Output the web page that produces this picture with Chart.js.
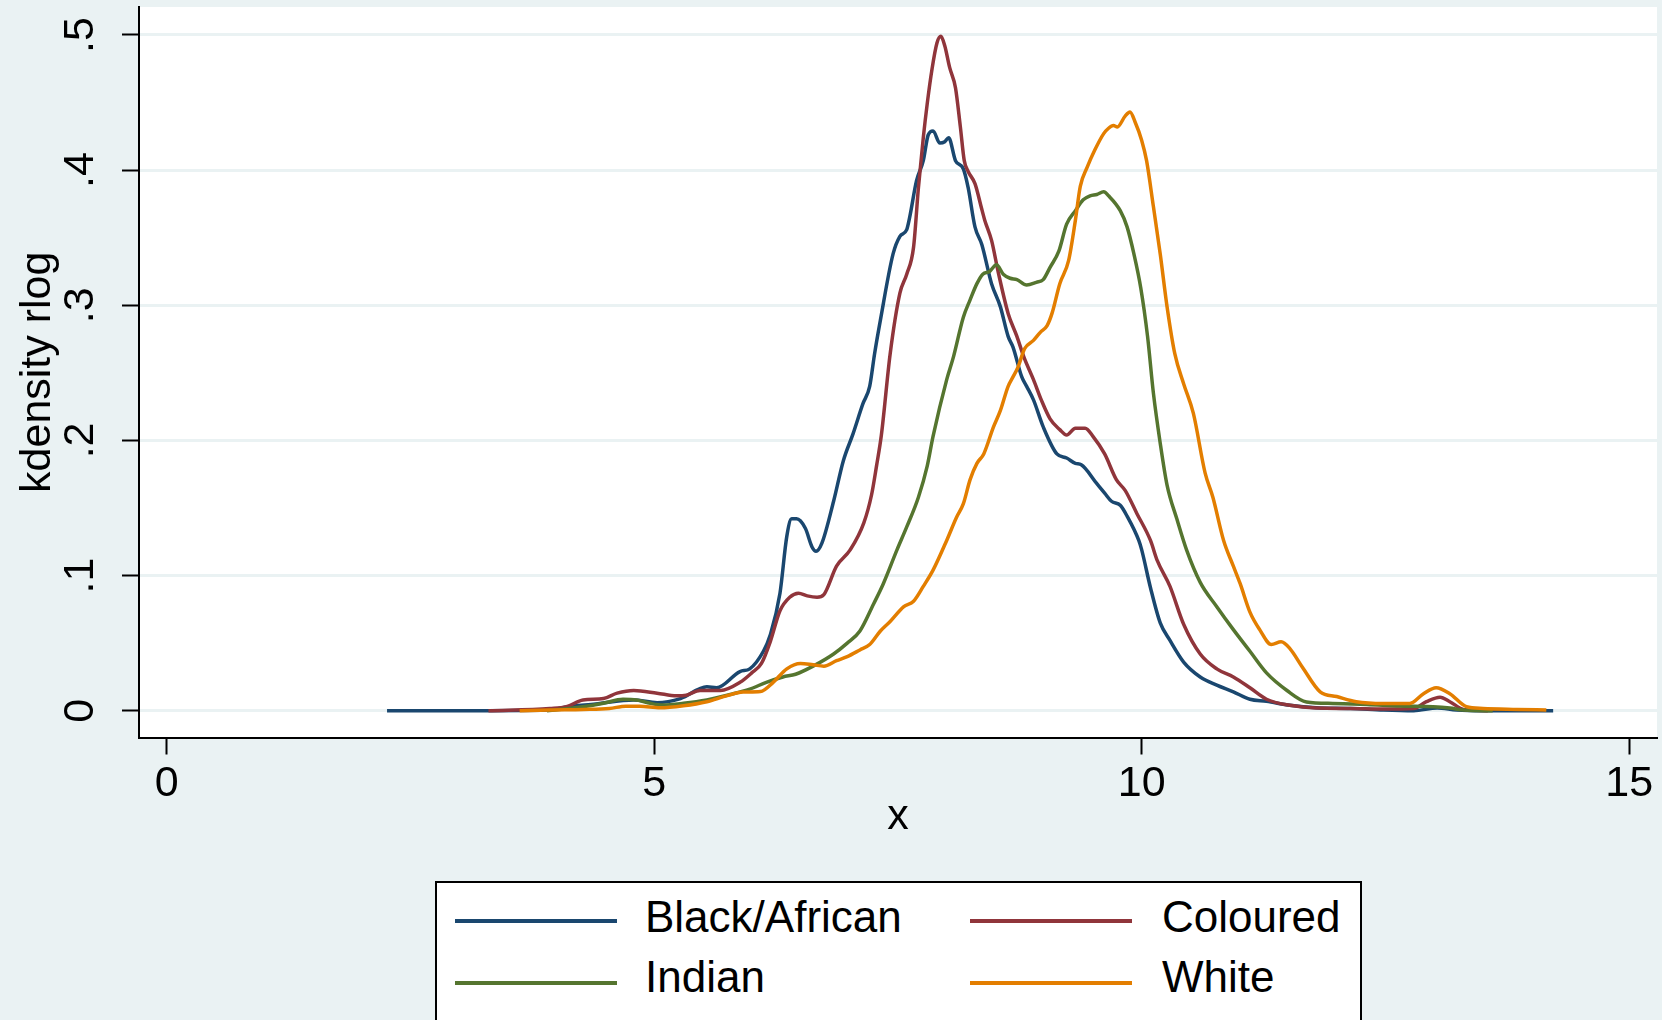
<!DOCTYPE html>
<html>
<head>
<meta charset="utf-8">
<script src="https://cdn.jsdelivr.net/npm/chart.js@4.4.1/dist/chart.umd.min.js"></script>
<style>
  body { margin: 0; background: #eaf2f3; width: 1662px; height: 1020px; overflow: hidden; position: relative; font-family: "Liberation Sans", Arial, sans-serif; }
  #wrap { position: absolute; left: 0; top: 0; width: 1662px; height: 860px; }
  #legend { position: absolute; left: 435px; top: 881px; width: 927px; height: 170px; box-sizing: border-box; border: 2px solid #000; background: #fff; }
  .key-line { position: absolute; width: 162px; height: 4px; }
  .key-text { position: absolute; font-size: 44px; line-height: 44px; color: #000; white-space: nowrap; }
</style>
</head>
<body>
<div id="wrap"><canvas id="kd"></canvas></div>
<div id="legend"></div>

<script>
// Series
const seriesNames = ['Black/African', 'Coloured', 'Indian', 'White'];
const seriesColors = ['#1a476f', '#90353b', '#55752f', '#e37e00'];

const blackX = [2.26, 3.00, 3.93, 4.07, 4.40, 4.79, 5.03, 5.27, 5.54, 5.64, 5.88, 5.98, 6.12, 6.19, 6.29, 6.36, 6.41, 6.46, 6.55, 6.62,
  6.66, 6.72, 6.84, 6.94, 7.04, 7.14, 7.21, 7.26, 7.32, 7.45, 7.52, 7.59, 7.62, 7.69, 7.76, 7.81, 7.86, 7.93, 7.98, 8.02,
  8.09, 8.17, 8.22, 8.29, 8.36, 8.46, 8.55, 8.63, 8.68, 8.77, 8.82, 8.89, 8.99, 9.13, 9.23, 9.32, 9.38, 9.54, 9.62, 9.69,
  9.78, 9.85, 9.97, 10.00, 10.09, 10.19, 10.29, 10.43, 10.60, 10.77, 10.94, 11.11, 11.28, 11.52, 11.79, 12.14, 12.48, 12.79, 13.03, 13.23,
  13.50, 14.22];
const blackY = [0, 0, 0.0005, 0.0025, 0.005, 0.008, 0.006, 0.009, 0.0177, 0.017, 0.029, 0.031, 0.044, 0.056, 0.087, 0.129, 0.142, 0.142, 0.135, 0.121,
  0.118, 0.124, 0.155, 0.185, 0.205, 0.227, 0.240, 0.264, 0.289, 0.338, 0.351, 0.356, 0.365, 0.392, 0.407, 0.426, 0.429, 0.420, 0.421, 0.424,
  0.407, 0.401, 0.387, 0.358, 0.345, 0.316, 0.299, 0.277, 0.269, 0.247, 0.240, 0.230, 0.210, 0.190, 0.187, 0.183, 0.182, 0.168, 0.161, 0.155,
  0.152, 0.144, 0.126, 0.119, 0.091, 0.065, 0.052, 0.036, 0.025, 0.019, 0.014, 0.0085, 0.007, 0.004, 0.0022, 0.0017, 0.0005, 0, 0.002, 0.0005,
  0, 0];

const colouredX = [3.30, 3.93, 4.10, 4.27, 4.48, 4.62, 4.79, 5.03, 5.23, 5.33, 5.47, 5.68, 5.88, 6.00, 6.10, 6.19, 6.29, 6.39, 6.48, 6.57,
  6.67, 6.74, 6.87, 7.01, 7.15, 7.23, 7.28, 7.33, 7.42, 7.52, 7.59, 7.66, 7.71, 7.76, 7.80, 7.85, 7.90, 7.94, 7.98, 8.03,
  8.09, 8.14, 8.18, 8.22, 8.29, 8.36, 8.39, 8.46, 8.53, 8.63, 8.72, 8.79, 8.89, 8.97, 9.06, 9.16, 9.23, 9.32, 9.42, 9.50,
  9.62, 9.74, 9.83, 9.95, 10.09, 10.16, 10.29, 10.43, 10.60, 10.77, 10.94, 11.11, 11.28, 11.52, 11.79, 12.14, 12.48, 12.79, 12.92, 13.06,
  13.16, 13.30, 13.55];
const colouredY = [0, 0.0017, 0.003, 0.008, 0.009, 0.013, 0.015, 0.013, 0.011, 0.0115, 0.015, 0.015, 0.021, 0.028, 0.035, 0.051, 0.074, 0.084, 0.087, 0.085,
  0.084, 0.086, 0.107, 0.119, 0.139, 0.160, 0.181, 0.204, 0.264, 0.309, 0.323, 0.343, 0.387, 0.424, 0.449, 0.475, 0.494, 0.499, 0.492, 0.476,
  0.461, 0.432, 0.407, 0.399, 0.390, 0.371, 0.363, 0.348, 0.324, 0.294, 0.277, 0.262, 0.245, 0.230, 0.216, 0.208, 0.204, 0.209, 0.209, 0.203,
  0.190, 0.171, 0.163, 0.146, 0.126, 0.111, 0.092, 0.064, 0.042, 0.031, 0.025, 0.017, 0.0085, 0.004, 0.002, 0.0017, 0.0012, 0.0017, 0.0067, 0.010,
  0.0067, 0.001, 0];

const indianX = [3.90, 4.27, 4.48, 4.68, 4.82, 4.96, 5.09, 5.30, 5.54, 5.78, 5.98, 6.15, 6.32, 6.45, 6.63, 6.84, 6.98, 7.11, 7.25, 7.35,
  7.49, 7.59, 7.71, 7.80, 7.86, 8.00, 8.07, 8.17, 8.24, 8.31, 8.37, 8.44, 8.51, 8.58, 8.65, 8.72, 8.82, 8.92, 8.99, 9.06,
  9.15, 9.23, 9.32, 9.40, 9.47, 9.54, 9.61, 9.66, 9.78, 9.85, 9.92, 9.99, 10.06, 10.12, 10.19, 10.26, 10.36, 10.46, 10.60, 10.77,
  10.94, 11.11, 11.28, 11.49, 11.69, 11.96, 12.31, 12.65, 12.99, 13.16, 13.30, 13.60];
const indianY = [0, 0.003, 0.0055, 0.0085, 0.008, 0.0055, 0.0042, 0.0055, 0.008, 0.012, 0.016, 0.021, 0.025, 0.027, 0.033, 0.042, 0.050, 0.059, 0.079, 0.094,
  0.119, 0.136, 0.158, 0.181, 0.203, 0.245, 0.262, 0.291, 0.304, 0.316, 0.323, 0.325, 0.330, 0.323, 0.320, 0.319, 0.315, 0.317, 0.319, 0.328,
  0.340, 0.360, 0.370, 0.378, 0.381, 0.382, 0.384, 0.381, 0.370, 0.358, 0.338, 0.313, 0.277, 0.235, 0.198, 0.167, 0.142, 0.119, 0.095, 0.077,
  0.060, 0.044, 0.028, 0.015, 0.0065, 0.0054, 0.0047, 0.0035, 0.003, 0.002, 0.0005, 0];

const whiteX = [3.62, 3.93, 4.27, 4.54, 4.71, 4.85, 5.06, 5.30, 5.54, 5.74, 5.91, 6.09, 6.22, 6.36, 6.50, 6.63, 6.74, 6.87, 6.98, 7.11,
  7.21, 7.32, 7.42, 7.56, 7.66, 7.76, 7.86, 8.00, 8.10, 8.17, 8.24, 8.31, 8.38, 8.48, 8.55, 8.63, 8.68, 8.73, 8.80, 8.89,
  8.96, 9.03, 9.08, 9.16, 9.25, 9.32, 9.37, 9.44, 9.52, 9.61, 9.66, 9.71, 9.75, 9.83, 9.88, 9.93, 10.00, 10.05, 10.12, 10.19,
  10.26, 10.34, 10.43, 10.53, 10.65, 10.73, 10.84, 10.94, 11.01, 11.11, 11.21, 11.33, 11.43, 11.52, 11.65, 11.83, 12.00, 12.20, 12.48, 12.75,
  12.89, 13.02, 13.16, 13.33, 13.50, 13.85, 14.15];
const whiteY = [0, 0.0006, 0.001, 0.0017, 0.0034, 0.0034, 0.0022, 0.0037, 0.0067, 0.011, 0.0138, 0.0142, 0.021, 0.031, 0.035, 0.034, 0.033, 0.037, 0.040, 0.045,
  0.049, 0.059, 0.066, 0.077, 0.081, 0.092, 0.104, 0.126, 0.143, 0.153, 0.171, 0.183, 0.190, 0.210, 0.222, 0.240, 0.247, 0.254, 0.268, 0.274,
  0.280, 0.285, 0.294, 0.316, 0.333, 0.363, 0.388, 0.402, 0.415, 0.427, 0.431, 0.433, 0.432, 0.440, 0.443, 0.436, 0.422, 0.407, 0.373, 0.338,
  0.299, 0.264, 0.242, 0.220, 0.176, 0.158, 0.126, 0.107, 0.094, 0.073, 0.060, 0.049, 0.051, 0.046, 0.032, 0.014, 0.0105, 0.0067, 0.0054, 0.0054,
  0.0126, 0.017, 0.0126, 0.003, 0.0017, 0.001, 0.0005];

// Axes
const xTicks = [0, 5, 10, 15];
const xTickLabels = ['0', '5', '10', '15'];
const yTicks = [0, 0.1, 0.2, 0.3, 0.4, 0.5];
const yTickLabels = ['0', '.1', '.2', '.3', '.4', '.5'];

const seriesX = [blackX, colouredX, indianX, whiteX];
const seriesY = [blackY, colouredY, indianY, whiteY];

// Legend (html)
const legendSlots = [[455, 921, 645, 895], [970, 921, 1162, 895], [455, 983, 645, 955], [970, 983, 1162, 955]];
seriesNames.forEach((name, i) => {
  const [lx, ly, tx, ty] = legendSlots[i];
  document.body.insertAdjacentHTML('beforeend',
    `<div class="key-line" style="left:${lx}px;top:${ly - 2}px;background:${seriesColors[i]}"></div>` +
    `<div class="key-text" style="left:${tx}px;top:${ty}px">${name}</div>`);
});

// White plot region
const plotBg = {
  id: 'plotBg',
  beforeDraw(chart) {
    const { ctx, chartArea: a } = chart;
    ctx.save();
    ctx.fillStyle = '#ffffff';
    ctx.fillRect(a.left, a.top, a.right - a.left, a.bottom - a.top);
    ctx.restore();
  }
};

Chart.defaults.font.family = '"Liberation Sans", Arial, sans-serif';
Chart.defaults.font.size = 43;
Chart.defaults.color = '#000';

new Chart(document.getElementById('kd'), {
  type: 'line',
  data: {
    datasets: seriesNames.map((name, i) => ({
      label: name,
      data: seriesX[i].map((x, j) => ({ x: x, y: seriesY[i][j] })),
      borderColor: seriesColors[i],
      borderWidth: 3.5,
      pointRadius: 0,
      fill: false,
      cubicInterpolationMode: 'monotone',
      order: seriesNames.length - i
    }))
  },
  options: {
    responsive: true,
    maintainAspectRatio: false,
    animation: false,
    layout: { padding: { top: 7, right: 5, left: 0, bottom: 0 } },
    plugins: { legend: { display: false }, tooltip: { enabled: false } },
    scales: {
      x: {
        type: 'linear',
        min: -0.284,
        max: 15.285,
        afterBuildTicks: s => { s.ticks = xTicks.map(v => ({ value: v })); },
        afterFit: s => { s.height = 122.5; s.paddingLeft = 0; s.paddingRight = 0; },
        ticks: { padding: 4, maxRotation: 0, callback: (v, i) => xTickLabels[i] },
        grid: { drawOnChartArea: false, tickLength: 17, tickColor: '#000', tickWidth: 2 },
        border: { display: true, color: '#000', width: 2 },
        title: { display: true, text: 'x', padding: { top: 0, bottom: 17 } }
      },
      y: {
        min: -0.0198,
        max: 0.5207,
        afterBuildTicks: s => { s.ticks = yTicks.map(v => ({ value: v })); },
        afterFit: s => { s.width = 139; s.paddingTop = 0; s.paddingBottom = 0; },
        ticks: { padding: 23, minRotation: 90, maxRotation: 90, crossAlign: 'center', callback: (v, i) => yTickLabels[i] },
        grid: { color: '#eaf2f3', lineWidth: 3, tickLength: 17, tickColor: '#000', tickWidth: 2 },
        border: { display: true, color: '#000', width: 2 },
        title: { display: true, text: 'kdensity rlog', padding: { top: 12, bottom: 0 } }
      }
    }
  },
  plugins: [plotBg]
});
</script>
</body>
</html>
